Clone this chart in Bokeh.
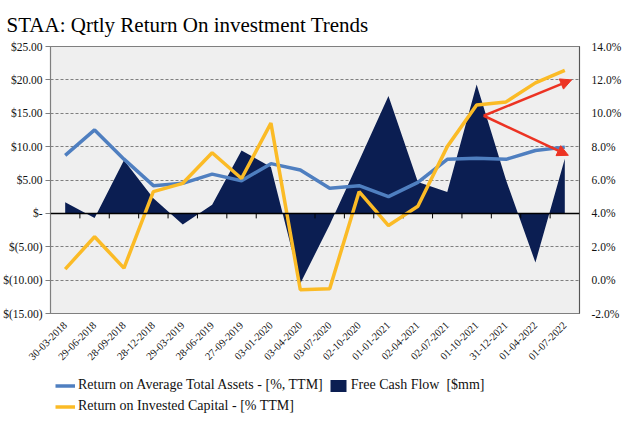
import numpy as np
from bokeh.plotting import figure
from bokeh.layouts import column
from bokeh.models import (FactorRange, Range1d, LinearAxis, FixedTicker, Span,
                          Arrow, NormalHead, Legend, LegendItem, ColumnDataSource)
from bokeh.embed import file_html
from bokeh.resources import INLINE

# ---------------- data ----------------
dates = ["30-03-2018", "29-06-2018", "28-09-2018", "28-12-2018", "29-03-2019",
         "28-06-2019", "27-09-2019", "03-01-2020", "03-04-2020", "03-07-2020",
         "02-10-2020", "01-01-2021", "02-04-2021", "02-07-2021", "01-10-2021",
         "31-12-2021", "01-04-2022", "01-07-2022"]
# Return on Average Total Assets [% TTM] (right axis)
roa = [7.48, 9.0, 7.25, 5.66, 5.8, 6.35, 5.96, 6.98, 6.6, 5.5,
       5.66, 5.0, 5.86, 7.24, 7.3, 7.24, 7.77, 7.97]
# Return on Invested Capital [% TTM] (right axis)
roic = [0.66, 2.6, 0.72, 5.3, 5.8, 7.63, 6.09, 9.41, -0.58, -0.52,
        5.3, 3.27, 4.43, 8.0, 10.5, 10.68, 11.82, 12.57]
# Free Cash Flow [$mm] (left axis)
fcf = [1.67, -0.7, 7.95, 2.27, -1.68, 1.28, 9.43, 6.96, -10.5, -1.7,
       7.9, 17.6, 4.7, 3.2, 19.3, 5.0, -7.36, 8.2]

left_ticks = [-15, -10, -5, 0, 5, 10, 15, 20, 25]
left_labels = ["$(15.00)", "$(10.00)", "$(5.00)", "$-", "$5.00", "$10.00",
               "$15.00", "$20.00", "$25.00"]
right_ticks = [-2, 0, 2, 4, 6, 8, 10, 12, 14]
right_labels = ["-2.0%", "0.0%", "2.0%", "4.0%", "6.0%", "8.0%", "10.0%",
                "12.0%", "14.0%"]
grid_ticks = [-10, -5, 5, 10, 15, 20]

# red annotation arrows (category-index x, right-axis %)
arrow_start = (14.74, 9.85)
arrow_end_x = [17.73, 17.62]
arrow_end_y = [12.0, 7.48]

# ---------------- styling ----------------
BLUE = "#4f7fc0"
YELLOW = "#fbbb26"
NAVY = "#0b1e52"
RED = "#ec3323"
GRAY = "#7f7f7f"
FONT = "Liberation Serif"

src = ColumnDataSource(dict(date=dates, roa=roa, roic=roic, fcf=fcf,
                            zero=[0] * len(dates)))

p = figure(width=624, height=375, x_range=FactorRange(*dates),
           y_range=Range1d(-15, 25), output_backend="svg",
           toolbar_location=None, min_border_left=44, min_border_right=38,
           min_border_top=33, min_border_bottom=62)
p.extra_y_ranges = {"pct": Range1d(-2, 14)}
p.x_range.range_padding = 0

p.title.text = "STAA: Qrtly Return On investment Trends"
p.title.text_font = FONT
p.title.text_font_size = "21px"
p.title.text_font_style = "normal"
p.title.text_color = "black"
p.title.align = "left"
p.title.offset = -44
p.title.standoff = 20

p.background_fill_color = "#efefef"
p.border_fill_color = "white"
p.outline_line_color = GRAY
p.outline_line_width = 1.2

# grid
p.xgrid.visible = False
p.ygrid.ticker = FixedTicker(ticks=grid_ticks)
p.ygrid.grid_line_color = GRAY
p.ygrid.grid_line_dash = "3 2"
p.ygrid.grid_line_width = 1

# left axis
ly = p.yaxis[0]
ly.ticker = FixedTicker(ticks=left_ticks)
ly.major_label_overrides = {t: l for t, l in zip(left_ticks, left_labels)}
ly.axis_line_color = GRAY
ly.major_tick_line_color = GRAY
ly.major_tick_out = 5
ly.major_tick_in = 0
ly.minor_tick_line_color = None
ly.major_label_standoff = 3
ly.major_label_text_font = FONT
ly.major_label_text_font_size = "11.5px"
ly.major_label_text_color = "#111"

# right axis
ry = LinearAxis(y_range_name="pct", ticker=FixedTicker(ticks=right_ticks))
ry.major_label_overrides = {t: l for t, l in zip(right_ticks, right_labels)}
ry.axis_line_color = "#555555"
ry.major_tick_line_color = None
ry.minor_tick_line_color = None
ry.major_label_standoff = 6
ry.major_label_text_font = FONT
ry.major_label_text_font_size = "11.5px"
ry.major_label_text_color = "#111"
p.add_layout(ry, "right")

# bottom axis (labels only; the category axis line is drawn at zero)
bx = p.xaxis[0]
bx.axis_line_color = None
bx.major_tick_line_color = None
bx.major_label_orientation = np.pi / 4
bx.major_label_standoff = 4
bx.major_label_text_font = FONT
bx.major_label_text_font_size = "10.5px"
bx.major_label_text_color = "#111"

# FCF area
area = p.varea(x="date", y1="zero", y2="fcf", source=src, fill_color=NAVY)

# zero axis line with category boundary ticks
p.add_layout(Span(location=0, dimension="width", line_color="black",
                  line_width=1.5))
bounds = np.arange(1, len(dates))
p.segment(x0=bounds, y0=np.zeros(len(bounds)), x1=bounds,
          y1=np.full(len(bounds), -0.75), line_color="black", line_width=1)

# lines
l_roa = p.line(x="date", y="roa", source=src, y_range_name="pct",
               line_color=BLUE, line_width=3.5)
l_roic = p.line(x="date", y="roic", source=src, y_range_name="pct",
                line_color=YELLOW, line_width=3.5)

# arrows
for ex, ey in zip(arrow_end_x, arrow_end_y):
    p.add_layout(Arrow(x_start=arrow_start[0], y_start=arrow_start[1],
                       x_end=ex, y_end=ey, y_range_name="pct",
                       line_color=RED, line_width=2.5,
                       end=NormalHead(size=11, fill_color=RED, line_color=RED)))

# ---------------- legend strip below the chart ----------------
p2 = figure(width=624, height=43, x_range=p.x_range, y_range=Range1d(-15, 25),
            output_backend="svg", toolbar_location=None,
            x_axis_location=None, y_axis_location=None,
            min_border_left=44, min_border_right=38,
            min_border_top=0, min_border_bottom=0)
p2.grid.visible = False
p2.outline_line_color = None
p2.background_fill_color = "white"
p2.border_fill_color = "white"

g_roa = p2.line(x="date", y="roa", source=src, line_color=BLUE,
                line_width=3.5, visible=False)
g_fcf = p2.varea(x="date", y1="zero", y2="fcf", source=src,
                 fill_color=NAVY, visible=False)
g_roic = p2.line(x="date", y="roic", source=src, line_color=YELLOW,
                 line_width=3.5, visible=False)

legend = Legend(items=[
    LegendItem(label="Return on Average Total Assets - [%, TTM]", renderers=[g_roa]),
    LegendItem(label="Free Cash Flow  [$mm]", renderers=[g_fcf]),
    LegendItem(label="Return on Invested Capital - [% TTM]", renderers=[g_roic]),
], orientation="horizontal", ncols=2, location=(5, 4), click_policy="none")
legend.label_text_font = FONT
legend.label_text_font_size = "14px"
legend.label_text_color = "#111"
legend.glyph_width = 20
legend.glyph_height = 15
legend.label_height = 15
legend.label_standoff = 3
legend.spacing = 5
legend.padding = 0
legend.margin = 0
legend.border_line_color = None
legend.background_fill_alpha = 0
legend.inactive_fill_alpha = 0
p2.add_layout(legend, "center")

layout = column(p, p2, spacing=0)
open("out.html", "w").write(file_html(layout, INLINE))
